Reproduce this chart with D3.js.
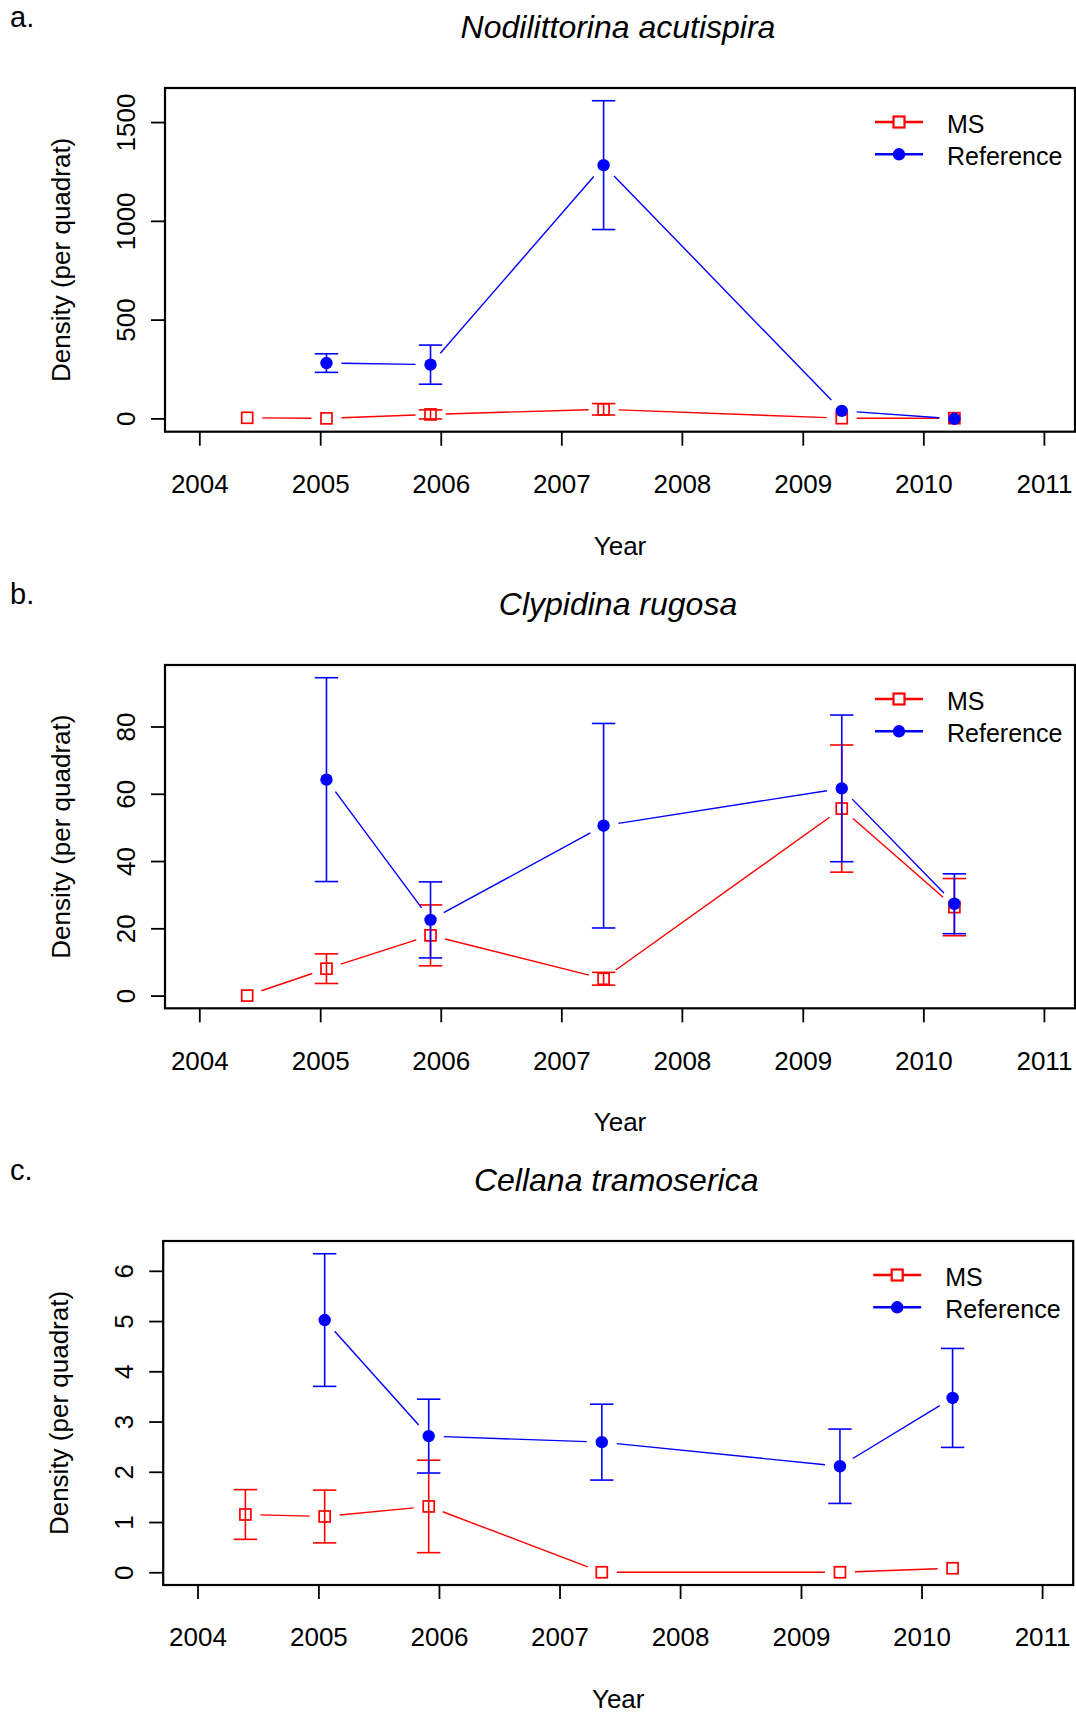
<!DOCTYPE html>
<html><head><meta charset="utf-8">
<script src="https://cdn.jsdelivr.net/npm/d3@7"></script>
<style>
body{margin:0;background:#fff}
svg{display:block}
text{font-family:"Liberation Sans",Arial,Helvetica,sans-serif;fill:#000}
</style>
</head><body>
<svg id="chart" width="1076" height="1713"></svg>
<script>
// ---------- data ----------
const sampleDates = ["2004-05-25","2005-01-20","2005-12-01","2007-05-09","2009-04-29","2010-04-05"];
const yearTicks = [2004,2005,2006,2007,2008,2009,2010,2011];
const seriesNames = ["MS","Reference"];
const seriesColors = ["#ff0000","#0000ff"];
const panelTags = ["a.","b.","c."];
const panelTitles = ["Nodilittorina acutispira","Clypidina rugosa","Cellana tramoserica"];
const xTitle = "Year";
const yTitle = "Density (per quadrat)";

// panel a: Nodilittorina acutispira
const msMeanA  = [3, 0, 20, 46, 1, 1];
const msSeA    = [null, null, 23, 29, null, null];
const refMeanA = [null, 280, 272, 1282, 38, -2];
const refSeA   = [null, 47, 99, 326, null, null];
const yTicksA  = [0, 500, 1000, 1500];

// panel b: Clypidina rugosa
const msMeanB  = [0, 8.0, 17.9, 5.0, 55.6, 26.3];
const msSeB    = [null, 4.4, 9.05, 1.9, 18.9, 8.5];
const refMeanB = [null, 64.2, 22.5, 50.5, 61.6, 27.3];
const refSeB   = [null, 30.3, 11.3, 30.4, 21.8, 8.9];
const yTicksB  = [0, 20, 40, 60, 80];

// panel c: Cellana tramoserica
const msMeanC  = [1.15, 1.11, 1.31, 0, 0, 0.08];
const msSeC    = [0.495, 0.525, 0.92, null, null, null];
const refMeanC = [null, 5.02, 2.71, 2.59, 2.11, 3.47];
const refSeC   = [null, 1.32, 0.735, 0.755, 0.74, 0.985];
const yTicksC  = [0, 1, 2, 3, 4, 5, 6];

// ---------- layout ----------
const panels = [
  {top: 88,   bottom: 431.7, left: 165, ms: [msMeanA, msSeA], ref: [refMeanA, refSeA], ticks: yTicksA},
  {top: 665,  bottom: 1008.3, left: 165, ms: [msMeanB, msSeB], ref: [refMeanB, refSeB], ticks: yTicksB},
  {top: 1241, bottom: 1585, left: 163.2, ms: [msMeanC, msSeC], ref: [refMeanC, refSeC], ticks: yTicksC}
];
const boxW = 910;
const gap = 15;
const capHalf = 11.7;

const svg = d3.select("#chart");
const parseDate = d3.utcParse("%Y-%m-%d");
const dates = sampleDates.map(parseDate);

panels.forEach((p, i) => {
  const right = p.left + boxW;
  const g = svg.append("g");
  const x = d3.scaleUtc()
    .domain([new Date(Date.UTC(2004,0,1)), new Date(Date.UTC(2011,0,1))])
    .range([p.left + 34.3, p.left + 878.9]);

  // y domain: range of mean±se with 4% padding (R style)
  const vals = [];
  [p.ms, p.ref].forEach(([m, s]) => m.forEach((v, k) => {
    if (v == null) return;
    vals.push(v);
    if (s[k] != null) { vals.push(v - s[k]); vals.push(v + s[k]); }
  }));
  const lo = d3.min(vals), hi = d3.max(vals), pad = (hi - lo) * 0.04;
  const y = d3.scaleLinear().domain([lo - pad, hi + pad]).range([p.bottom, p.top]);

  // x axis
  const xa = g.append("g").attr("transform", `translate(0,${p.bottom})`)
    .call(d3.axisBottom(x)
      .tickValues(yearTicks.map(yy => new Date(Date.UTC(yy,0,1))))
      .tickFormat(d3.utcFormat("%Y"))
      .tickSizeInner(14).tickSizeOuter(0).tickPadding(29));
  xa.select(".domain").remove();
  xa.selectAll(".tick line").attr("stroke", "#000").attr("stroke-width", 1.8);
  xa.selectAll(".tick text").attr("font-size", 26).attr("font-family", null);

  // y axis
  const ya = g.append("g").attr("transform", `translate(${p.left},0)`)
    .call(d3.axisLeft(y).tickValues(p.ticks).tickFormat(d3.format("d"))
      .tickSizeInner(14).tickSizeOuter(0));
  ya.select(".domain").remove();
  ya.selectAll(".tick line").attr("stroke", "#000").attr("stroke-width", 1.8);
  ya.selectAll(".tick text")
    .attr("x", null).attr("dy", null)
    .attr("text-anchor", "middle")
    .attr("font-size", 26).attr("font-family", null)
    .attr("transform", "translate(-30,0) rotate(-90)");

  // box
  g.append("rect").attr("x", p.left).attr("y", p.top)
    .attr("width", boxW).attr("height", p.bottom - p.top)
    .attr("fill", "none").attr("stroke", "#000").attr("stroke-width", 2.2);

  // titles
  const cx = (p.left + right) / 2;
  g.append("text").attr("x", cx - 2).attr("y", p.top - 50)
    .attr("text-anchor", "middle").attr("font-size", 32).attr("font-style", "italic")
    .text(panelTitles[i]);
  g.append("text").attr("x", 10).attr("y", p.top - 61)
    .attr("font-size", 29).text(panelTags[i]);
  g.append("text").attr("x", cx).attr("y", p.bottom + 123)
    .attr("text-anchor", "middle").attr("font-size", 26).text(xTitle);
  g.append("text")
    .attr("transform", `translate(${p.left - 95},${(p.top + p.bottom) / 2}) rotate(-90)`)
    .attr("text-anchor", "middle").attr("font-size", 26).text(yTitle);

  // series
  [p.ms, p.ref].forEach(([means, ses], si) => {
    const col = seriesColors[si];
    const pts = means.map((v, k) => v == null ? null :
      {x: x(dates[k]), y: y(v), lo: ses[k] == null ? null : y(v - ses[k]), hi: ses[k] == null ? null : y(v + ses[k])})
      .filter(d => d);
    const sg = g.append("g");
    // error bars
    pts.filter(d => d.lo != null).forEach(d => {
      sg.append("line").attr("x1", d.x).attr("x2", d.x).attr("y1", d.lo).attr("y2", d.hi)
        .attr("stroke", col).attr("stroke-width", 1.6);
      [d.lo, d.hi].forEach(yy => sg.append("line")
        .attr("x1", d.x - capHalf).attr("x2", d.x + capHalf).attr("y1", yy).attr("y2", yy)
        .attr("stroke", col).attr("stroke-width", 1.6));
    });
    // connecting segments with gaps (type = "b")
    for (let k = 0; k < pts.length - 1; k++) {
      const a = pts[k], b = pts[k + 1];
      const dx = b.x - a.x, dy = b.y - a.y, dd = Math.hypot(dx, dy);
      if (dd <= 2 * gap) continue;
      const ux = dx / dd, uy = dy / dd;
      sg.append("line")
        .attr("x1", a.x + ux * gap).attr("y1", a.y + uy * gap)
        .attr("x2", b.x - ux * gap).attr("y2", b.y - uy * gap)
        .attr("stroke", col).attr("stroke-width", 1.4);
    }
    // points
    pts.forEach(d => {
      if (si === 0) {
        sg.append("rect").attr("x", d.x - 5.5).attr("y", d.y - 5.5).attr("width", 11).attr("height", 11)
          .attr("fill", "none").attr("stroke", col).attr("stroke-width", 1.7);
      } else {
        sg.append("circle").attr("cx", d.x).attr("cy", d.y).attr("r", 6.2).attr("fill", col);
      }
    });
  });

  // legend
  const lx = p.left + 710;
  seriesNames.forEach((name, si) => {
    const ly = p.top + 34 + si * 32.3;
    const col = seriesColors[si];
    g.append("line").attr("x1", lx).attr("x2", lx + 48).attr("y1", ly).attr("y2", ly)
      .attr("stroke", col).attr("stroke-width", 2.6);
    if (si === 0) {
      g.append("rect").attr("x", lx + 24 - 5.5).attr("y", ly - 5.5).attr("width", 11).attr("height", 11)
        .attr("fill", "#fff").attr("stroke", col).attr("stroke-width", 2.2);
    } else {
      g.append("circle").attr("cx", lx + 24).attr("cy", ly).attr("r", 6.2).attr("fill", col);
    }
    g.append("text").attr("x", lx + 72).attr("y", ly + 10.5).attr("font-size", 25).text(name);
  });
});
</script>
</body></html>
